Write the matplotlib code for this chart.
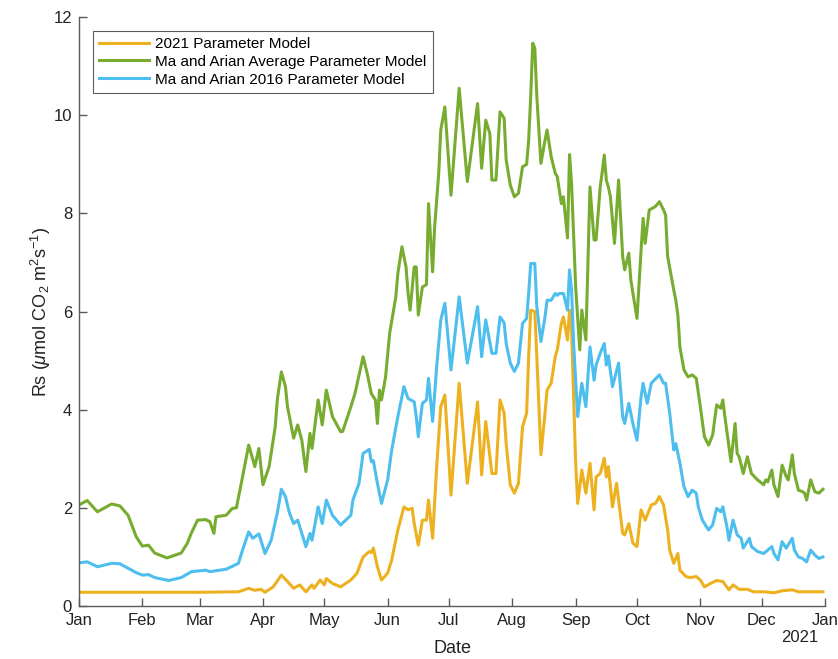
import numpy as np
import matplotlib
matplotlib.use("Agg")
import matplotlib.pyplot as plt
import matplotlib.dates as mdates

plt.rcParams['font.family'] = ['Liberation Sans', 'DejaVu Sans']
plt.rcParams['mathtext.fontset'] = 'custom'
plt.rcParams['mathtext.rm'] = 'Liberation Sans'
plt.rcParams['mathtext.it'] = 'Liberation Sans:italic'

# day of year (0 = 1 Jan 2021) and soil respiration values
green_day = [0, 4, 9, 16, 20, 24, 28, 31, 34, 37, 43, 50, 53, 55, 58, 62, 64, 66, 67, 72,
             75, 77, 80, 83, 84, 86, 88, 90, 93, 96, 97, 99, 101, 102, 105, 107, 109, 111, 113, 114,
             117, 119, 121, 124, 128, 129, 133, 135, 139, 141, 143, 145, 146, 147, 148, 150, 152, 155, 156, 158,
             160, 161, 162, 164, 165, 166, 168, 170, 171, 173, 174, 176, 177, 179, 182, 186, 190, 195, 197, 199,
             201, 202, 204, 206, 208, 209, 211, 213, 215, 217, 219, 220, 221, 222, 223, 224, 226, 228, 229, 231,
             233, 234, 236, 237, 239, 240, 241, 243, 245, 246, 248, 250, 252, 253, 255, 256, 257, 258, 259, 260,
             262, 264, 266, 267, 269, 270, 273, 275, 276, 277, 279, 282, 284, 286, 287, 288, 291, 292, 293, 294,
             296, 298, 300, 302, 304, 306, 308, 310, 312, 314, 315, 316, 318, 319, 321, 322, 323, 325, 327, 329,
             332, 335, 336, 337, 339, 340, 342, 344, 346, 347, 349, 350, 352, 354, 355, 356, 358, 360, 362, 364]
green_val = [2.06, 2.15, 1.92, 2.08, 2.04, 1.85, 1.41, 1.22, 1.24, 1.08, 0.98, 1.08, 1.28, 1.49, 1.75, 1.76, 1.72, 1.48, 1.82, 1.85,
             1.99, 2.0, 2.63, 3.28, 3.14, 2.84, 3.21, 2.47, 2.84, 3.65, 4.2, 4.77, 4.47, 4.06, 3.42, 3.69, 3.38, 2.74, 3.52, 3.21,
             4.2, 3.69, 4.4, 3.86, 3.55, 3.56, 4.06, 4.33, 5.08, 4.74, 4.33, 4.2, 3.72, 4.4, 4.2, 4.67, 5.56, 6.3, 6.78, 7.32,
             6.91, 6.37, 6.03, 6.91, 6.91, 5.93, 6.5, 6.55, 8.2, 6.81, 7.73, 8.82, 9.7, 10.17, 8.37, 10.55, 8.65, 10.24, 8.92, 9.9,
             9.63, 8.68, 8.68, 10.07, 9.94, 9.09, 8.58, 8.34, 8.41, 8.95, 9.0, 9.49, 10.38, 11.47, 11.37, 10.38, 9.02, 9.49, 9.7, 9.16,
             8.82, 8.75, 8.2, 8.34, 7.5, 9.2, 8.6, 6.5, 5.22, 6.03, 5.42, 8.54, 7.46, 7.46, 8.54, 8.85, 9.19, 8.68, 8.54, 8.34,
             7.39, 8.68, 7.12, 6.85, 7.19, 6.64, 5.86, 7.25, 7.9, 7.39, 8.07, 8.14, 8.24, 8.07, 7.97, 7.12, 6.44, 6.23, 5.93, 5.28,
             4.81, 4.67, 4.71, 4.64, 4.06, 3.45, 3.28, 3.48, 4.1, 4.03, 4.2, 3.86, 3.25, 2.94, 3.72, 3.11, 3.04, 2.7, 3.04, 2.7,
             2.57, 2.47, 2.57, 2.53, 2.77, 2.47, 2.23, 2.87, 2.64, 2.57, 3.08, 2.7, 2.36, 2.33, 2.3, 2.16, 2.57, 2.33, 2.3, 2.38]

blue_day = [0, 4, 9, 16, 20, 24, 28, 31, 34, 37, 44, 50, 55, 62, 64, 72, 75, 78, 80, 83,
            85, 88, 91, 94, 97, 99, 101, 103, 105, 107, 111, 113, 114, 117, 119, 121, 124, 128, 133, 134,
            137, 139, 142, 143, 144, 146, 148, 151, 153, 156, 159, 161, 164, 165, 166, 168, 170, 171, 173, 175,
            177, 179, 182, 186, 190, 195, 197, 199, 202, 204, 206, 208, 209, 211, 213, 215, 217, 219, 220, 221,
            223, 224, 226, 228, 229, 231, 233, 234, 235, 237, 239, 240, 241, 242, 244, 246, 248, 250, 252, 253,
            255, 257, 258, 259, 261, 264, 266, 267, 269, 271, 273, 275, 276, 278, 280, 283, 284, 286, 287, 289,
            291, 292, 294, 296, 298, 300, 302, 303, 305, 308, 310, 312, 314, 315, 317, 318, 320, 322, 324, 325,
            328, 329, 332, 335, 337, 339, 340, 342, 344, 346, 349, 350, 352, 354, 356, 358, 360, 362, 364]
blue_val = [0.88, 0.9, 0.8, 0.87, 0.86, 0.77, 0.68, 0.63, 0.64, 0.58, 0.52, 0.58, 0.7, 0.73, 0.7, 0.75, 0.81, 0.87, 1.14, 1.51,
            1.38, 1.47, 1.07, 1.34, 1.89, 2.38, 2.23, 1.89, 1.68, 1.75, 1.21, 1.48, 1.34, 2.02, 1.68, 2.16, 1.85, 1.65, 1.85, 2.16,
            2.5, 3.11, 3.19, 2.94, 2.96, 2.5, 2.09, 2.57, 3.18, 3.86, 4.47, 4.23, 4.16, 3.86, 3.45, 4.13, 4.2, 4.64, 3.76, 4.88,
            5.83, 6.17, 4.81, 6.3, 4.95, 6.1, 5.08, 5.83, 5.15, 5.15, 5.89, 5.77, 5.35, 4.95, 4.78, 4.95, 5.76, 5.86, 6.37, 6.98,
            6.98, 6.1, 5.39, 5.89, 6.23, 6.23, 6.37, 6.33, 6.37, 6.37, 6.03, 6.85, 6.44, 5.35, 3.86, 4.54, 4.06, 5.28, 4.6, 4.91,
            5.15, 5.35, 4.91, 5.1, 4.47, 4.95, 3.86, 3.72, 4.13, 3.72, 3.38, 4.26, 4.54, 4.13, 4.54, 4.67, 4.71, 4.54, 4.54, 3.93,
            3.18, 3.31, 2.91, 2.43, 2.23, 2.36, 2.3, 2.02, 1.75, 1.55, 1.65, 1.99, 1.92, 2.02, 1.62, 1.34, 1.75, 1.45, 1.38, 1.18,
            1.38, 1.21, 1.11, 1.07, 1.14, 1.21, 1.07, 0.94, 1.31, 1.18, 1.38, 1.14, 1.0, 0.97, 0.9, 1.14, 1.04, 0.97, 1.0]

yellow_day = [0, 31, 59, 78, 83, 86, 89, 91, 95, 99, 102, 105, 108, 111, 114, 115, 118, 120, 121, 124,
              128, 133, 136, 139, 142, 143, 144, 146, 148, 151, 153, 156, 159, 161, 163, 164, 166, 168, 170, 171,
              173, 175, 177, 179, 182, 186, 190, 195, 197, 199, 202, 204, 206, 208, 209, 211, 213, 215, 217, 219,
              220, 221, 223, 224, 226, 228, 229, 231, 233, 234, 236, 237, 239, 240, 241, 242, 243, 244, 246, 248,
              250, 252, 253, 255, 257, 258, 259, 261, 263, 266, 267, 269, 271, 273, 275, 277, 280, 282, 284, 286,
              288, 289, 291, 293, 294, 297, 299, 302, 304, 306, 309, 312, 315, 318, 320, 323, 327, 330, 335, 340,
              344, 349, 352, 358, 364]
yellow_val = [0.28, 0.28, 0.28, 0.29, 0.36, 0.32, 0.34, 0.28, 0.39, 0.63, 0.5, 0.36, 0.43, 0.29, 0.43, 0.36, 0.53, 0.43, 0.56, 0.46,
              0.39, 0.53, 0.67, 1.0, 1.11, 1.09, 1.18, 0.8, 0.53, 0.67, 0.94, 1.55, 2.02, 1.96, 1.99, 1.68, 1.24, 1.75, 1.75, 2.16,
              1.38, 2.84, 4.06, 4.3, 2.26, 4.54, 2.5, 4.16, 2.67, 3.76, 2.7, 2.7, 4.2, 3.93, 3.31, 2.47, 2.3, 2.5, 3.65, 3.93,
              5.08, 6.03, 6.0, 5.08, 3.08, 3.93, 4.4, 4.54, 5.08, 5.22, 5.76, 5.89, 5.42, 6.03, 5.62, 4.26, 2.91, 2.09, 2.77, 2.3,
              2.91, 1.96, 2.63, 2.7, 3.01, 2.63, 2.84, 2.02, 2.5, 1.48, 1.45, 1.68, 1.28, 1.21, 1.96, 1.75, 2.06, 2.09, 2.23, 2.06,
              1.55, 1.14, 0.87, 1.07, 0.73, 0.6, 0.58, 0.6, 0.53, 0.39, 0.46, 0.52, 0.5, 0.33, 0.43, 0.34, 0.34, 0.29, 0.29, 0.27,
              0.31, 0.33, 0.29, 0.29, 0.29]

labels = ["2021 Parameter Model", "Ma and Arian Average Parameter Model", "Ma and Arian 2016 Parameter Model"]
colors = ["#EDB120", "#77AC30", "#4DBEEE"]

start = np.datetime64("2021-01-01")


def to_dates(days):
    return start + np.array(days, dtype="timedelta64[D]")


fig = plt.figure(figsize=(8.38, 6.59), dpi=100)
ax = fig.add_axes([0.0943, 0.0804, 0.8902, 0.8936])

ax.plot(to_dates(yellow_day), yellow_val, color=colors[0], lw=2.2, label=labels[0])
ax.plot(to_dates(green_day), green_val, color=colors[1], lw=2.2, label=labels[1])
ax.plot(to_dates(blue_day), blue_val, color=colors[2], lw=2.2, label=labels[2])

ax.set_xlim(np.datetime64("2021-01-01"), np.datetime64("2022-01-01"))
ax.set_ylim(0, 12)
ax.set_yticks(range(0, 13, 2))
ax.xaxis.set_major_locator(mdates.MonthLocator())
ax.xaxis.set_major_formatter(mdates.DateFormatter("%b"))

axcol = "#5a5a5a"
for s in ["top", "right"]:
    ax.spines[s].set_visible(False)
for s in ["left", "bottom"]:
    ax.spines[s].set_color(axcol)
    ax.spines[s].set_linewidth(1.0)
ax.tick_params(direction="in", length=6, width=1.0, color=axcol, labelsize=12, labelcolor="#222222", pad=5)

ax.set_xlabel("Date", fontsize=13, color="#222222", labelpad=9)
ax.set_ylabel(r"Rs ($\mu$mol CO$_2$ m$^2$s$^{-1}$)", fontsize=13, color="#222222", labelpad=0)
ax.text(0.966, -0.040, "2021", transform=ax.transAxes, fontsize=12, color="#222222", ha="center", va="top")

leg = ax.legend(loc="upper left", fontsize=11, frameon=True, fancybox=False, handlelength=3.3,
                handletextpad=0.4, labelspacing=0.25, borderaxespad=0.9, borderpad=0.4)
leg.get_frame().set_edgecolor("#333333")
leg.get_frame().set_linewidth(0.8)

fig.savefig("out.png", dpi=100)
